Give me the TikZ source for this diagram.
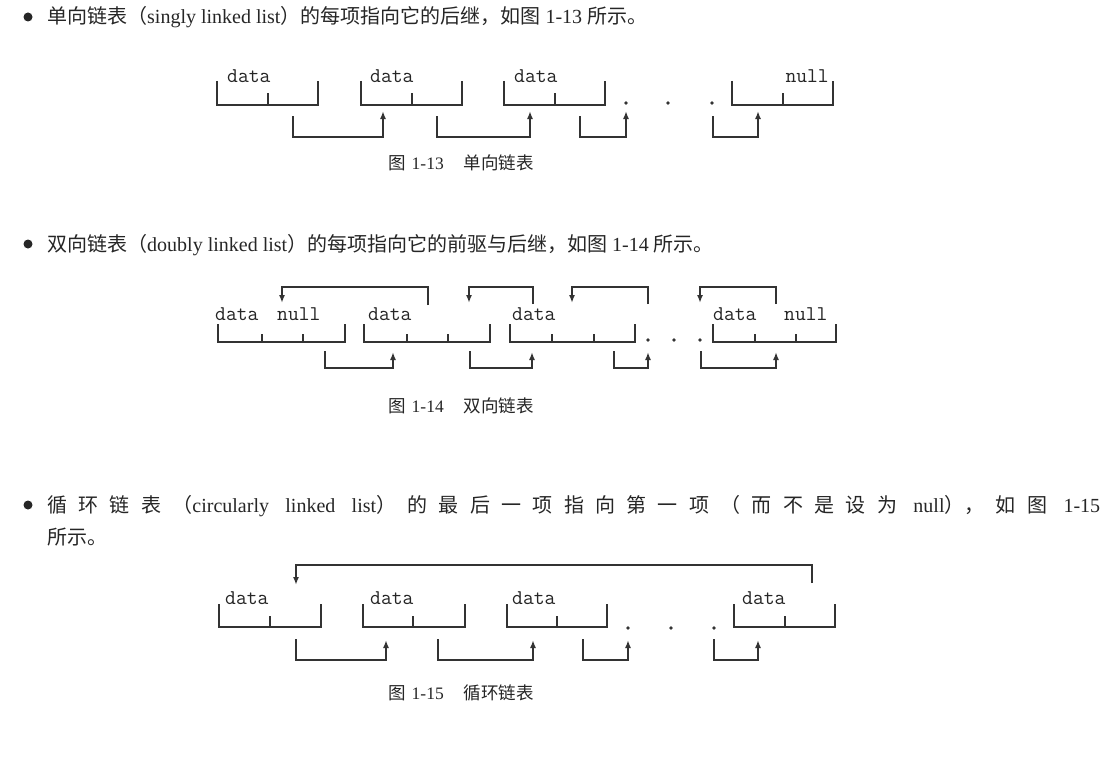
\documentclass[tikz,border=0pt]{standalone}
\usepackage{fontspec}
\setmainfont{Liberation Serif}
\newfontfamily\cjk{Noto Sans CJK SC}
\usetikzlibrary{arrows.meta}
\definecolor{ink}{HTML}{333333}
\definecolor{textink}{HTML}{262626}
\newcommand\lbox[6]{%
  \draw[boxline] (#1,#4) -- (#1,#5) -- (#2,#5) -- (#2,#4);
  \foreach \tk in {#3} {\draw[tickline] (\tk,#5) -- (\tk,#6);}}
\newcommand\sg{\hskip 0pt plus 1fil\relax}
\begin{document}
\begin{tikzpicture}[x=1pt,y=-1pt,
  boxline/.style={line width=2.6pt, draw=ink, line join=miter},
  tickline/.style={line width=2pt, draw=ink},
  ptr/.style={line width=2pt, draw=ink, -{Latex[length=8pt,width=6pt]}},
  lbl/.style={font=\ttfamily\fontsize{21}{21}\selectfont, inner sep=0pt, text=textink},
  txt/.style={font=\fontsize{20}{24}\selectfont, anchor=base west, inner sep=0pt, text=textink},
  captxt/.style={font=\fontsize{17.5}{20}\selectfont, anchor=base west, inner sep=0pt, text=textink},
  dotn/.style={circle, fill=ink, inner sep=0pt, minimum size=3.8pt},
  bul/.style={circle, fill=textink, inner sep=0pt, minimum size=9pt}]
\useasboundingbox (0,0) rectangle (1114,776);
\fill[white] (0,0) rectangle (1114,776);

% ---------- text lines ----------
\node[bul] (b1) at (28,17) {};
\node[txt] (t1) at (47,24) {{\cjk 单向链表（}singly linked list{\cjk ）的每项指向它的后继，如图} 1-13 {\cjk 所示。}};
\node[bul] (b2) at (28,244) {};
\node[txt] (t2) at (47,251) {{\cjk 双向链表（}doubly linked list{\cjk ）的每项指向它的前驱与后继，如图} 1-14 {\cjk 所示。}};
\node[bul] (b3) at (28,505) {};
\node[txt] (t3) at (47,512) {\hbox to 1053pt{{\cjk 循\sg 环\sg 链\sg 表\sg （}circularly\sg\ linked\sg\ list{\cjk ）\sg 的\sg 最\sg 后\sg 一\sg 项\sg 指\sg 向\sg 第\sg 一\sg 项\sg （\sg 而\sg 不\sg 是\sg 设\sg 为}\sg\ null{\cjk ），\sg 如\sg 图}\sg\ 1-15}};
\node[txt] (t4) at (47,544) {{\cjk 所示。}};

% ---------- captions ----------
\node[captxt] (c13) at (388,169) {{\cjk 图}\hspace{6pt}1-13\hspace{20pt}{\cjk 单向链表}};
\node[captxt] (c14) at (388,412) {{\cjk 图}\hspace{6pt}1-14\hspace{20pt}{\cjk 双向链表}};
\node[captxt] (c15) at (388,699) {{\cjk 图}\hspace{6pt}1-15\hspace{20pt}{\cjk 循环链表}};

% ---------- figure 1-13 ----------
\lbox{217}{318}{268}{81}{105}{93}
\lbox{361}{462}{412}{81}{105}{93}
\lbox{504}{605}{555}{81}{105}{93}
\lbox{732}{833}{783}{81}{105}{93}
\node[lbl, anchor=base west] (a1) at (227,82) {data};
\node[lbl, anchor=base west] (a2) at (370,82) {data};
\node[lbl, anchor=base west] (a3) at (514,82) {data};
\node[lbl, anchor=base east] (a4) at (829,82) {null};
\node[dotn] (ad1) at (626,103) {};
\node[dotn] (ad2) at (668,103) {};
\node[dotn] (ad3) at (712,103) {};
\coordinate (as1) at (293,116); \coordinate (ae1) at (383,111);
\coordinate (as2) at (437,116); \coordinate (ae2) at (530,111);
\coordinate (as3) at (580,116); \coordinate (ae3) at (626,111);
\coordinate (as4) at (713,116); \coordinate (ae4) at (758,111);
\foreach \i in {1,...,4} {\draw[ptr] (as\i) -- ++(0,21) -| (ae\i);}

% ---------- figure 1-14 ----------
\lbox{218}{345}{262,303}{324}{342}{334}
\lbox{364}{490}{407,448}{324}{342}{334}
\lbox{510}{635}{552,594}{324}{342}{334}
\lbox{713}{836}{755,796}{324}{342}{334}
\node[lbl, anchor=base west] (b1d) at (215,320) {data};
\node[lbl, anchor=base west] (b1n) at (277,320) {null};
\node[lbl, anchor=base west] (b2d) at (368,320) {data};
\node[lbl, anchor=base west] (b3d) at (512,320) {data};
\node[lbl, anchor=base west] (b4d) at (713,320) {data};
\node[lbl, anchor=base west] (b4n) at (784,320) {null};
\node[dotn] (bd1) at (648,340) {};
\node[dotn] (bd2) at (674,340) {};
\node[dotn] (bd3) at (700,340) {};
% top (previous) links
\coordinate (bts1) at (428,305); \coordinate (bte1) at (282,303);
\coordinate (bts2) at (533,304); \coordinate (bte2) at (469,303);
\coordinate (bts3) at (648,304); \coordinate (bte3) at (572,303);
\coordinate (bts4) at (776,304); \coordinate (bte4) at (700,303);
\foreach \i in {1,...,4} {\draw[ptr] (bts\i) |- ([yshift=16pt]bte\i) -- (bte\i);}
% bottom (next) links
\coordinate (bbs1) at (325,351); \coordinate (bbe1) at (393,352);
\coordinate (bbs2) at (470,351); \coordinate (bbe2) at (532,352);
\coordinate (bbs3) at (614,351); \coordinate (bbe3) at (648,352);
\coordinate (bbs4) at (701,351); \coordinate (bbe4) at (776,352);
\foreach \i in {1,...,4} {\draw[ptr] (bbs\i) -- ++(0,17) -| (bbe\i);}

% ---------- figure 1-15 ----------
\lbox{219}{321}{270}{604}{627}{616}
\lbox{363}{465}{413}{604}{627}{616}
\lbox{507}{607}{557}{604}{627}{616}
\lbox{734}{835}{785}{604}{627}{616}
\node[lbl, anchor=base west] (c1d) at (225,604) {data};
\node[lbl, anchor=base west] (c2d) at (370,604) {data};
\node[lbl, anchor=base west] (c3d) at (512,604) {data};
\node[lbl, anchor=base west] (c4d) at (742,604) {data};
\node[dotn] (cd1) at (628,628) {};
\node[dotn] (cd2) at (671,628) {};
\node[dotn] (cd3) at (714,628) {};
\coordinate (cts) at (812,583); \coordinate (cte) at (296,585);
\draw[ptr] (cts) -- ++(0,-18) -| (cte);
\coordinate (cbs1) at (296,639); \coordinate (cbe1) at (386,640);
\coordinate (cbs2) at (438,639); \coordinate (cbe2) at (533,640);
\coordinate (cbs3) at (583,639); \coordinate (cbe3) at (628,640);
\coordinate (cbs4) at (714,639); \coordinate (cbe4) at (758,640);
\foreach \i in {1,...,4} {\draw[ptr] (cbs\i) -- ++(0,21) -| (cbe\i);}
\end{tikzpicture}
\end{document}
